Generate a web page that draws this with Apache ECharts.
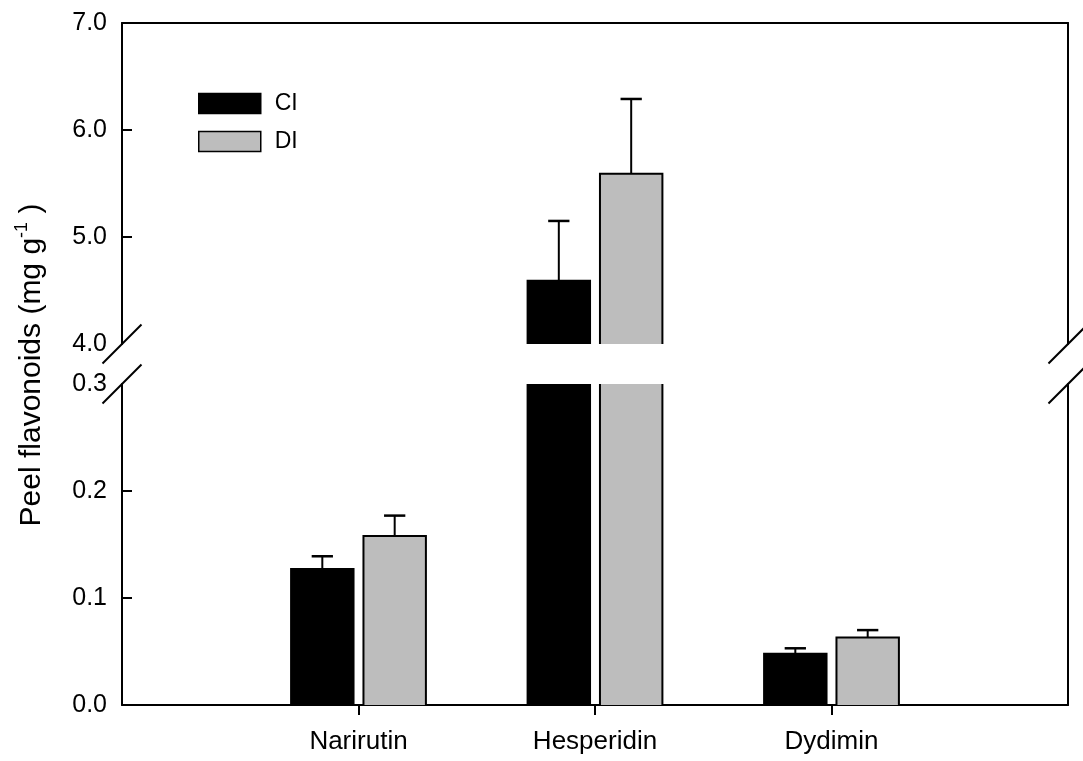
<!DOCTYPE html>
<html>
<head>
<meta charset="utf-8">
<script src="https://cdn.jsdelivr.net/npm/echarts@6/dist/echarts.min.js"></script>
<style>
  html, body { margin: 0; padding: 0; background: #ffffff; }
  #chart { width: 1083px; height: 761px; }
</style>
</head>
<body>
<div id="chart"></div>
<script>
// Peel flavonoid content by treatment (mean and standard error, mg g-1)
const categories = ['Narirutin', 'Hesperidin', 'Dydimin'];
const ciMean = [0.127, 4.59, 0.048];
const ciErr = [0.012, 0.56, 0.005];
const diMean = [0.158, 5.59, 0.063];
const diErr = [0.019, 0.70, 0.007];
const upperTicks = [4.0, 5.0, 6.0, 7.0];
const lowerTicks = [0.0, 0.1, 0.2, 0.3];

const FONT = '"Liberation Sans", Arial, Helvetica, sans-serif';
const INK = '#000000';
const CI_FILL = '#000000';
const DI_FILL = '#bdbdbd';
// bar geometry as fractions of one category step
const BAR_W = 0.264;
const BAR_GAP = 0.042;
const CAP_HALF = 0.045;

const xMax = categories.length + 1;
const catPositions = categories.map((c, i) => i + 1);

function seriesData(mean, err) {
  return categories.map((c, i) => [i + 1, mean[i], err[i]]);
}

// Bar with outline and upper error bar, cut cleanly at the plot edges
function barRenderer(side, fill) {
  return function (params, api) {
    const cs = params.coordSys;
    const xi = api.value(0);
    const mean = api.value(1);
    const err = api.value(2);
    const band = api.size([1, 0])[0];
    const w = band * BAR_W;
    const g = band * BAR_GAP;
    const cx = api.coord([xi, 0])[0] + side * (g / 2 + w / 2);
    const yTop = api.coord([xi, mean])[1];
    const yBase = api.coord([xi, 0])[1];
    const top = Math.max(yTop, cs.y);
    const bottom = Math.min(yBase, cs.y + cs.height);
    const children = [];
    if (top < bottom) {
      const x0 = cx - w / 2, x1 = cx + w / 2;
      const stroke = { stroke: INK, lineWidth: 2, fill: null };
      children.push({ type: 'rect', shape: { x: x0, y: top, width: w, height: bottom - top }, style: { fill: fill } });
      if (yTop >= cs.y) {
        children.push({ type: 'polyline', shape: { points: [[x0, bottom], [x0, top], [x1, top], [x1, bottom]] }, style: stroke });
        const yErr = api.coord([xi, mean + err])[1];
        if (yErr >= cs.y) {
          const capHalf = band * CAP_HALF;
          children.push({ type: 'line', shape: { x1: cx, y1: yTop, x2: cx, y2: yErr }, style: { stroke: INK, lineWidth: 2 } });
          children.push({ type: 'line', shape: { x1: cx - capHalf, y1: yErr, x2: cx + capHalf, y2: yErr }, style: { stroke: INK, lineWidth: 2.5 } });
        }
      } else {
        children.push({ type: 'line', shape: { x1: x0, y1: bottom, x2: x0, y2: top }, style: stroke });
        children.push({ type: 'line', shape: { x1: x1, y1: bottom, x2: x1, y2: top }, style: stroke });
      }
    }
    return { type: 'group', children: children };
  };
}

// Diagonal break marks where the value axis is interrupted
function breakRenderer(atTop) {
  return function (params) {
    const cs = params.coordSys;
    const y = atTop ? cs.y : cs.y + cs.height;
    const L = 19.5;
    const mark = (x) => ({
      type: 'line',
      shape: { x1: x - L, y1: y + L, x2: x + L, y2: y - L },
      style: { stroke: INK, lineWidth: 2 }
    });
    return { type: 'group', children: [mark(cs.x), mark(cs.x + cs.width)] };
  };
}

const axisLine = { show: true, onZero: false, lineStyle: { color: INK, width: 2 } };
const tickStyle = { color: INK, width: 2 };

function leftAxis(gridIndex, ticks) {
  return {
    gridIndex: gridIndex,
    type: 'value',
    position: 'left',
    min: ticks[0],
    max: ticks[ticks.length - 1],
    interval: +(ticks[1] - ticks[0]).toFixed(6),
    axisLine: axisLine,
    axisTick: { show: true, inside: true, length: 10, lineStyle: tickStyle, customValues: ticks.slice(1, -1) },
    axisLabel: {
      color: INK, fontSize: 25, fontFamily: FONT, margin: 15,
      customValues: ticks,
      formatter: (v) => Number(v).toFixed(1)
    },
    splitLine: { show: false }
  };
}

function rightAxis(gridIndex, ticks) {
  return {
    gridIndex: gridIndex,
    type: 'value',
    position: 'right',
    min: ticks[0],
    max: ticks[ticks.length - 1],
    axisLine: axisLine,
    axisTick: { show: false },
    axisLabel: { show: false },
    splitLine: { show: false }
  };
}

const chart = echarts.init(document.getElementById('chart'), null, { renderer: 'canvas' });

chart.setOption({
  backgroundColor: '#ffffff',
  animation: false,
  textStyle: { fontFamily: FONT },
  grid: [
    { left: 122, width: 946, top: 23, height: 321 },
    { left: 122, width: 946, top: 384, height: 321 }
  ],
  xAxis: [
    {
      gridIndex: 0, type: 'value', position: 'top', min: 0, max: xMax, interval: 1,
      axisLine: axisLine, axisTick: { show: false }, axisLabel: { show: false }, splitLine: { show: false }
    },
    {
      gridIndex: 1, type: 'value', position: 'bottom', min: 0, max: xMax, interval: 1,
      axisLine: axisLine,
      axisTick: { show: true, inside: false, length: 10, lineStyle: tickStyle, customValues: catPositions },
      axisLabel: {
        color: INK, fontSize: 26, fontFamily: FONT, margin: 24,
        customValues: catPositions,
        formatter: (v) => categories[Math.round(v) - 1] || ''
      },
      splitLine: { show: false }
    }
  ],
  yAxis: [
    leftAxis(0, upperTicks),
    leftAxis(1, lowerTicks),
    rightAxis(0, upperTicks),
    rightAxis(1, lowerTicks)
  ],
  legend: {
    orient: 'vertical',
    left: 198,
    top: 92,
    padding: 0,
    itemWidth: 62,
    itemHeight: 20,
    itemGap: 15,
    selectedMode: false,
    textStyle: { color: INK, fontSize: 23, fontFamily: FONT, padding: [0, 0, 0, 9] },
    data: [
      { name: 'CI', icon: 'rect', itemStyle: { color: CI_FILL, borderColor: INK, borderWidth: 1.5 } },
      { name: 'DI', icon: 'rect', itemStyle: { color: DI_FILL, borderColor: INK, borderWidth: 1.5 } }
    ]
  },
  graphic: [
    {
      type: 'text',
      x: 30,
      y: 365,
      rotation: Math.PI / 2,
      style: {
        text: '{n|Peel flavonoids (mg g}{s|-1}{n| )}',
        align: 'center',
        verticalAlign: 'middle',
        fill: INK,
        rich: {
          n: { fontSize: 30, fontFamily: FONT, fill: INK, lineHeight: 34, verticalAlign: 'bottom' },
          s: { fontSize: 18, fontFamily: FONT, fill: INK, lineHeight: 34, verticalAlign: 'top' }
        }
      }
    }
  ],
  series: [
    { name: 'CI', type: 'custom', xAxisIndex: 0, yAxisIndex: 0, itemStyle: { color: CI_FILL }, renderItem: barRenderer(-1, CI_FILL), data: seriesData(ciMean, ciErr) },
    { name: 'DI', type: 'custom', xAxisIndex: 0, yAxisIndex: 0, itemStyle: { color: DI_FILL }, renderItem: barRenderer(1, DI_FILL), data: seriesData(diMean, diErr) },
    { name: 'CI', type: 'custom', xAxisIndex: 1, yAxisIndex: 1, itemStyle: { color: CI_FILL }, renderItem: barRenderer(-1, CI_FILL), data: seriesData(ciMean, ciErr) },
    { name: 'DI', type: 'custom', xAxisIndex: 1, yAxisIndex: 1, itemStyle: { color: DI_FILL }, renderItem: barRenderer(1, DI_FILL), data: seriesData(diMean, diErr) },
    { name: 'axis break upper', type: 'custom', xAxisIndex: 0, yAxisIndex: 0, silent: true, renderItem: breakRenderer(false), data: [[0, upperTicks[0]]] },
    { name: 'axis break lower', type: 'custom', xAxisIndex: 1, yAxisIndex: 1, silent: true, renderItem: breakRenderer(true), data: [[0, lowerTicks[lowerTicks.length - 1]]] }
  ]
});
</script>
</body>
</html>
